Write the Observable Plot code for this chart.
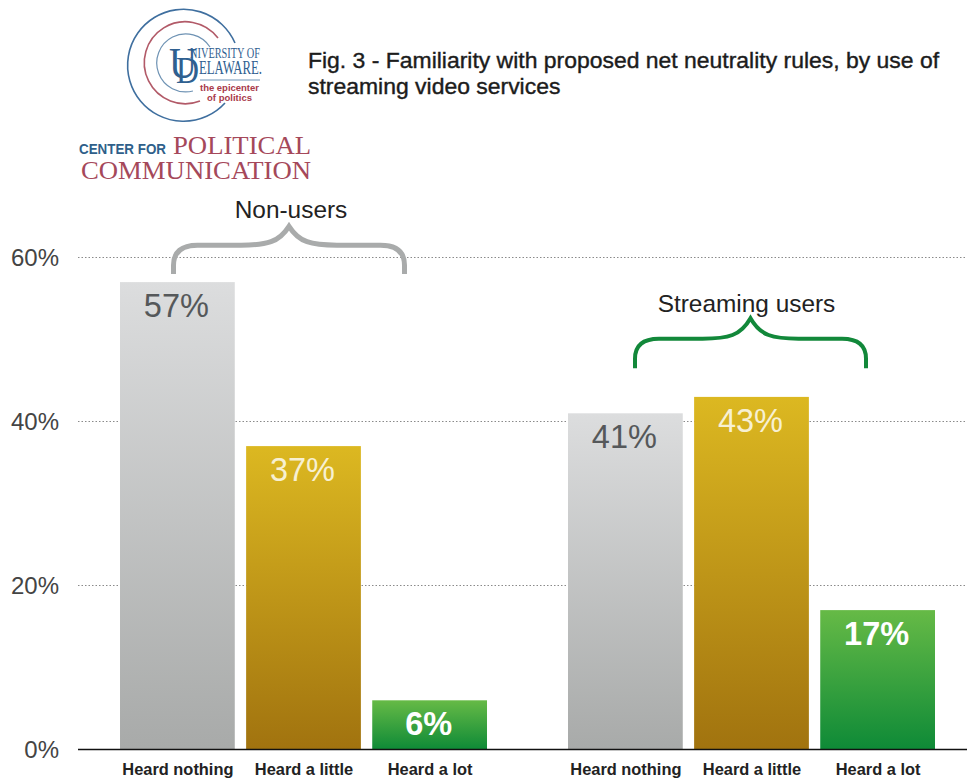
<!DOCTYPE html>
<html>
<head>
<meta charset="utf-8">
<script src="https://cdn.jsdelivr.net/npm/d3@7"></script>
<script src="https://cdn.jsdelivr.net/npm/@observablehq/plot@0.6"></script>
<style>
  html, body { margin: 0; padding: 0; background: #fff; }
  #page { position: relative; width: 967px; height: 778px; overflow: hidden; font-family: "Liberation Sans", Arial, sans-serif; }
  #header { position: relative; width: 967px; height: 190px; }
  #header svg { position: absolute; left: 0; top: 0; }
  #title { position: absolute; left: 308px; top: 47px; width: 655px; font-size: 22.95px; line-height: 26px; font-weight: 400; color: #1c1c1c; -webkit-text-stroke: 0.4px #1c1c1c; white-space: nowrap; }
  #chart svg { display: block; }
</style>
</head>
<body>
<div id="page">
  <div id="header">
    <svg width="330" height="190" viewBox="0 0 330 190" font-family="'Liberation Serif', serif">
      <g fill="none" stroke-width="1.6">
        <path d="M235 43 A56 56 0 1 0 225 103" stroke="#3f6f9f"/>
        <path d="M218 38 A41 41 0 1 0 200 101" stroke="#b25a68"/>
        <path d="M210 47 A29 29 0 1 0 193 91" stroke="#6f93b4" stroke-width="1.2"/>
      </g>
      <g fill="#2f6090">
        <text x="169" y="78" font-size="44" textLength="28" lengthAdjust="spacingAndGlyphs">U</text>
        <text x="176" y="83" font-size="38" textLength="23" lengthAdjust="spacingAndGlyphs">D</text>
        <text x="190" y="58" font-size="15" textLength="70" lengthAdjust="spacingAndGlyphs">NIVERSITY OF</text>
        <text x="199" y="74" font-size="18" textLength="63" lengthAdjust="spacingAndGlyphs">ELAWARE.</text>
      </g>
      <line x1="200" x2="260" y1="80" y2="80" stroke="#6f93b4" stroke-width="1"/>
      <g fill="#a93a4a" font-family="'Liberation Sans', sans-serif" font-weight="700" font-size="9.5">
        <text x="200" y="91" textLength="59">the epicenter</text>
        <text x="207" y="101" textLength="45">of politics</text>
      </g>
      <text x="79" y="154" font-family="'Liberation Sans', sans-serif" font-weight="700" font-size="15" fill="#2f5f8a" textLength="87" lengthAdjust="spacingAndGlyphs">CENTER FOR</text>
      <text x="173" y="154" font-size="25" fill="#a5485a" textLength="138" lengthAdjust="spacingAndGlyphs">POLITICAL</text>
      <text x="81" y="179" font-size="25" fill="#a5485a" textLength="230" lengthAdjust="spacingAndGlyphs">COMMUNICATION</text>
    </svg>
    <div id="title">Fig. 3 - Familiarity with proposed net neutrality rules, by use of<br>streaming video services</div>
  </div>
  <div id="chart"></div>
</div>
<script>
// Survey results: share of respondents in each familiarity level, per group.
const groups = ["Non-users", "Streaming users"];
const levels = ["Heard nothing", "Heard a little", "Heard a lot"];
const nonUsers = [57, 37, 6];
const streamingUsers = [41, 43, 17];
const yTicks = [0, 20, 40, 60];

const gradients = {
  "Heard nothing": ["#dcddde", "#a8aaa9"],
  "Heard a little": ["#dcb821", "#a1730f"],
  "Heard a lot": ["#66ba46", "#0e8a37"]
};
const labelColors = {
  "Heard nothing": "#55585a",
  "Heard a little": "#f7f0d2",
  "Heard a lot": "#ffffff"
};
const gradientId = level => "fill-" + level.replace(/\s+/g, "-").toLowerCase();

const rows = groups.flatMap((group, g) =>
  levels.map((level, i) => ({group, level, pct: (g === 0 ? nonUsers : streamingUsers)[i]}))
);

// Each brace: foot level, shoulder level and tip level on the percent scale.
const braces = [
  {group: "Non-users", foot: 58, shoulder: 61.5, tip: 63.8, labelAt: 65.8, shift: -14.5, labelShift: -13, color: "#a9abab", weight: 5},
  {group: "Streaming users", foot: 46.5, shoulder: 50.1, tip: 52.6, labelAt: 54.4, shift: -1, labelShift: -5.5, color: "#12883a", weight: 4}
];

const ns = "http://www.w3.org/2000/svg";

// Curly brace drawn in facet coordinates, centred over the middle bar.
function braceMark(index, scales) {
  const g = document.createElementNS(ns, "g");
  for (const i of index) {
    const b = braces[i];
    const cx = scales.x(levels[1]) + scales.x.bandwidth() / 2 + b.shift;
    const half = 115.5;
    const yF = scales.y(b.foot), yS = scales.y(b.shoulder), yT = scales.y(b.tip);
    const p = document.createElementNS(ns, "path");
    p.setAttribute("d",
      `M${cx - half} ${yF} V${yS + 20} Q${cx - half} ${yS} ${cx - half + 24} ${yS}` +
      ` H${cx - 48} C${cx - 22} ${yS} ${cx - 10} ${yS - 3} ${cx} ${yT}` +
      ` C${cx + 10} ${yS - 3} ${cx + 22} ${yS} ${cx + 48} ${yS}` +
      ` H${cx + half - 24} Q${cx + half} ${yS} ${cx + half} ${yS + 20} V${yF}`);
    p.setAttribute("fill", "none");
    p.setAttribute("stroke", b.color);
    p.setAttribute("stroke-width", b.weight);
    g.appendChild(p);
  }
  return g;
}

const valueLabel = (filter, fontWeight) => Plot.text(rows, {
  filter,
  fx: "group", x: "level", y: "pct",
  text: d => d.pct + "%",
  dy: 24, dx: -1.5, fontSize: 32.5, fontWeight,
  fill: d => labelColors[d.level]
});

const chart = Plot.plot({
  width: 967,
  height: 588,
  marginLeft: 78,
  marginRight: 0,
  marginTop: 67.5,
  marginBottom: 28.5,
  style: {background: "#fff", fontFamily: "'Liberation Sans', Arial, sans-serif"},
  fx: {domain: groups, axis: null, round: false, paddingInner: 0.1808, paddingOuter: 0.0826, align: 0.5676, label: null},
  x: {domain: levels, round: false, paddingInner: 0.09, paddingOuter: 0, label: null},
  y: {domain: [0, 60], label: null},
  color: {type: "identity"},
  marks: [
    Plot.barY(rows, {
      fx: "group", x: "level", y: "pct",
      fill: d => `url(#${gradientId(d.level)})`
    }),
    Plot.axisY({
      ticks: yTicks, tickFormat: d => d + "%", tickSize: 0, tickPadding: 61.5,
      fontSize: 24, fill: "#444", label: null
    }),
    Plot.axisX({tickSize: 0, tickPadding: 13, fontSize: 16.4, fontWeight: 700, fill: "#222", label: null}),
    valueLabel(d => d.level !== "Heard a lot", 400),
    valueLabel(d => d.level === "Heard a lot", 700),
    Plot.dot(braces, {fx: "group", x: () => levels[1], y: "tip", render: braceMark}),
    ...braces.map(b => Plot.text([b], {
      fx: "group", x: () => levels[1], y: "labelAt",
      text: "group", dx: b.labelShift, fontSize: 24.4, fill: "#222"
    }))
  ]
});

const svg = d3.select(chart);

// Vertical gradients referenced by the bar fills.
const defs = svg.insert("defs", ":first-child");
for (const level of levels) {
  const grad = defs.append("linearGradient")
    .attr("id", gradientId(level)).attr("x1", 0).attr("y1", 0).attr("x2", 0).attr("y2", 1);
  grad.append("stop").attr("offset", "0%").attr("stop-color", gradients[level][0]);
  grad.append("stop").attr("offset", "100%").attr("stop-color", gradients[level][1]);
}

// Rules that run across both facets: dotted gridlines behind the bars, baseline on top.
const yScale = chart.scale("y");
svg.insert("g", "defs + *")
  .attr("aria-label", "grid")
  .selectAll("line").data(yTicks.filter(d => d > 0)).join("line")
  .attr("x1", 78).attr("x2", 967)
  .attr("y1", d => yScale.apply(d)).attr("y2", d => yScale.apply(d))
  .attr("stroke", "#8a8a8a").attr("stroke-dasharray", "1.5 2");
svg.append("line")
  .attr("aria-label", "baseline")
  .attr("x1", 78).attr("x2", 967)
  .attr("y1", yScale.apply(0)).attr("y2", yScale.apply(0))
  .attr("stroke", "#111").attr("stroke-width", 1.5);

document.getElementById("chart").appendChild(chart);
</script>
</body>
</html>
